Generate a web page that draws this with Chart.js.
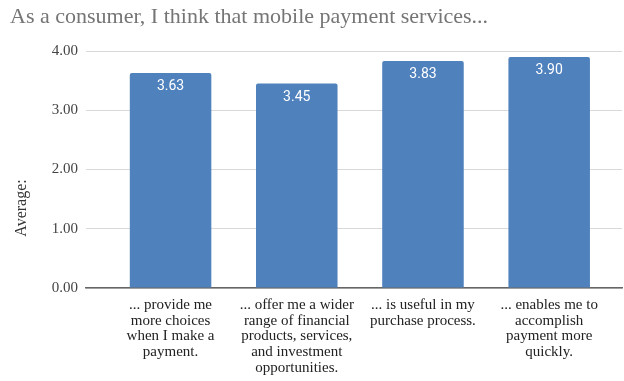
<!DOCTYPE html>
<html>
<head>
<meta charset="utf-8">
<script src="https://cdn.jsdelivr.net/npm/chart.js@4"></script>
<style>
  html, body { margin: 0; padding: 0; background: #fff; }
  #wrap { width: 624px; height: 381px; }
</style>
</head>
<body>
<div id="wrap"><canvas id="myChart"></canvas></div>
<script>
const chartTitle = 'As a consumer, I think that mobile payment services...';
const yTitle = 'Average:';
const categories = [
  ['... provide me', 'more choices', 'when I make a', 'payment.'],
  ['... offer me a wider', 'range of financial', 'products, services,', 'and investment', 'opportunities.'],
  ['... is useful in my', 'purchase process.'],
  ['... enables me to', 'accomplish', 'payment more', 'quickly.']
];
const averages = [3.63, 3.45, 3.83, 3.90];
const yTicks = [0, 1, 2, 3, 4];

const serif = '"Liberation Serif", "Times New Roman", serif';

// title and rotated axis caption drawn straight onto the canvas
const textPlugin = {
  id: 'textPlugin',
  afterDraw(chart) {
    const ctx = chart.ctx;
    ctx.save();
    ctx.fillStyle = '#757575';
    ctx.font = '22px ' + serif;
    ctx.textAlign = 'left';
    ctx.textBaseline = 'alphabetic';
    ctx.fillText(chartTitle, 10, 23);

    ctx.fillStyle = '#333';
    ctx.font = '16px ' + serif;
    ctx.translate(26, 208);
    ctx.rotate(-Math.PI / 2);
    ctx.textAlign = 'center';
    ctx.fillText(yTitle, 0, 0);
    ctx.restore();
  }
};

// value printed inside the top of each bar
const valuePlugin = {
  id: 'valuePlugin',
  afterDatasetsDraw(chart) {
    const ctx = chart.ctx;
    const meta = chart.getDatasetMeta(0);
    ctx.save();
    ctx.fillStyle = '#fff';
    ctx.font = '14px Roboto, sans-serif';
    ctx.textAlign = 'center';
    ctx.textBaseline = 'middle';
    meta.data.forEach((bar, i) => {
      ctx.fillText(averages[i].toFixed(2), bar.x, bar.y + 13.5);
    });
    ctx.restore();
  }
};

const ctx = document.getElementById('myChart').getContext('2d');
new Chart(ctx, {
  type: 'bar',
  data: {
    datasets: [{
      data: averages.map((v, i) => ({ x: i, y: v })),
      backgroundColor: '#4f81bd',
      borderRadius: { topLeft: 2, topRight: 2 },
      borderSkipped: 'bottom',
      categoryPercentage: 1,
      barPercentage: 0.646
    }]
  },
  options: {
    responsive: true,
    maintainAspectRatio: false,
    animation: false,
    layout: { padding: { top: 51, right: 2, left: 0, bottom: 0 } },
    plugins: {
      legend: { display: false },
      tooltip: { enabled: false }
    },
    scales: {
      x: {
        type: 'linear',
        offset: false,
        min: -0.67,
        max: 3.577,
        bounds: 'data',
        afterBuildTicks: scale => {
          scale.ticks = categories.map((_, i) => ({ value: i }));
        },
        afterFit: scale => { scale.height = 93; },
        grid: { display: false, drawTicks: false },
        border: { display: true, color: '#666', width: 1.5 },
        ticks: {
          autoSkip: false,
          maxRotation: 0,
          minRotation: 0,
          padding: 9,
          color: '#222',
          font: { family: serif, size: 15, lineHeight: 1.05 },
          callback: value => categories[value] || ''
        }
      },
      y: {
        min: 0,
        max: 4,
        afterBuildTicks: scale => {
          scale.ticks = yTicks.map(v => ({ value: v }));
        },
        afterFit: scale => { scale.width = 86; },
        grid: { color: '#d9d9d9', drawTicks: false },
        border: { display: false },
        ticks: {
          padding: 8,
          color: '#444',
          font: { family: serif, size: 15 },
          callback: value => value.toFixed(2)
        }
      }
    }
  },
  plugins: [textPlugin, valuePlugin]
});
</script>
</body>
</html>
